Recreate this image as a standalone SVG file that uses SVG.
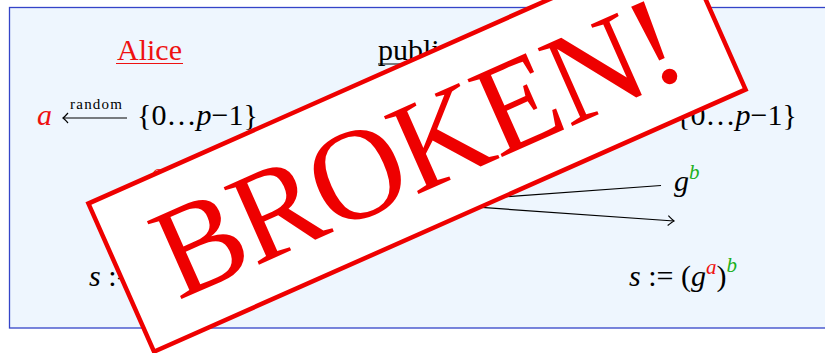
<svg xmlns="http://www.w3.org/2000/svg" width="825" height="353" viewBox="0 0 825 353">
<style>
.t{font-family:"Liberation Serif","Times New Roman",serif;font-size:30px;fill:#000}
.m{font-family:"Liberation Serif","Times New Roman",serif;font-size:30px;fill:#000}
.i{font-style:italic}
.sup{font-size:21px;font-style:italic}
.red{fill:#ee1111}
.grn{fill:#1cb01c}
.small{font-family:"Liberation Serif","Times New Roman",serif;font-size:15px;fill:#000}
.conn{stroke:#000;stroke-width:1.2;fill:none}
</style>
<defs>
<marker id="ah" markerUnits="userSpaceOnUse" markerWidth="14" markerHeight="14" viewBox="-8 -7 10 14" refX="0" refY="0" orient="auto">
<path d="M -6 -5 Q -1.5 -1 0 0 Q -1.5 1 -6 5" fill="none" stroke="#000" stroke-width="1.2"/>
</marker>
</defs>
<rect id="frame" x="9.5" y="7.5" width="830" height="320.5" fill="#eef6fe" stroke="#3444c8" stroke-width="1.3"/>
<g id="alice-header">
<text class="t red" x="149.5" y="60" text-anchor="middle">Alice</text>
<line x1="116" y1="63.5" x2="183" y2="63.5" stroke="#ee1111" stroke-width="1.2"/>
</g>
<g id="public-header">
<text class="t" x="415.5" y="60" text-anchor="middle">public</text>
<line x1="378" y1="64" x2="453" y2="64" stroke="#000" stroke-width="1.2"/>
</g>
<g id="alice-random">
<text class="m i red" x="37" y="125">a</text>
<text class="small" x="70" y="109" textLength="52">random</text>
<line x1="63" y1="118" x2="127" y2="118" class="conn"/>
<path d="M 68 113 Q 64.5 117 63 118 Q 64.5 119 68 123" fill="none" stroke="#000" stroke-width="1.2"/>
<text class="m" x="137" y="125" textLength="121">{0…<tspan class="i">p</tspan>−1}</text>
</g>
<g id="bob-random">
<text class="m" x="676" y="125" textLength="121">{0…<tspan class="i">p</tspan>−1}</text>
</g>
<g id="alice-ga">
<text class="m i" x="137" y="191">g<tspan class="sup red" dy="-12">a</tspan></text>
</g>
<g id="bob-gb">
<text class="m i" x="674" y="191">g<tspan class="sup grn" dy="-12">b</tspan></text>
</g>
<g id="connectors">
<line class="conn" x1="164" y1="185" x2="674" y2="221" marker-end="url(#ah)"/>
<line class="conn" x1="661" y1="185.5" x2="176" y2="220.5" marker-end="url(#ah)"/>
</g>
<g id="alice-secret">
<text class="m" x="89" y="286"><tspan class="i">s</tspan> := (<tspan class="i">g</tspan><tspan class="sup grn" dy="-12">b</tspan><tspan dy="12">)</tspan><tspan class="sup red" dy="-14">a</tspan></text>
</g>
<g id="bob-secret">
<text class="m" x="629" y="286"><tspan class="i">s</tspan> := (<tspan class="i">g</tspan><tspan class="sup red" dy="-12">a</tspan><tspan dy="12">)</tspan><tspan class="sup grn" dy="-14">b</tspan></text>
</g>
<g id="stamp" transform="translate(417 146.5) rotate(-23.9)">
<rect x="-323.5" y="-81" width="647" height="162" fill="#ffffff" stroke="#ee0000" stroke-width="4.5"/>
<text x="0" y="44" text-anchor="middle" textLength="562" font-family="'Liberation Serif','Times New Roman',serif" font-size="130" fill="#ee0000">BROKEN!</text>
</g>
</svg>
